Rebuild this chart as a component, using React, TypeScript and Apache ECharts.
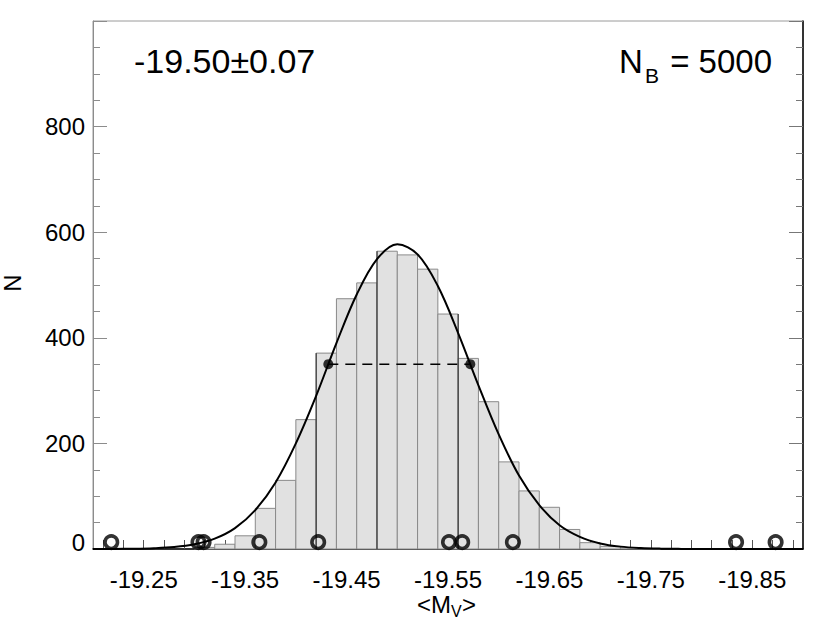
import React, { useEffect, useRef } from "react";
import * as echarts from "echarts";

// Histogram of bootstrap means (bin width 0.02)
const BIN_WIDTH = 0.02;
const binCenters = [
  -19.31, -19.33, -19.35, -19.37, -19.39, -19.41, -19.43, -19.45, -19.47, -19.49, -19.51, -19.53,
  -19.55, -19.57, -19.59, -19.61, -19.63, -19.65, -19.67, -19.69, -19.71, -19.73, -19.75,
];
const binCounts = [3, 9, 25, 77, 130, 245, 371, 474, 504, 564, 557, 530, 445, 361, 279, 165, 110, 79, 37, 12, 5, 2, 1];

// darker bar edges seen in the picture
const darkEdgeX = [-19.42, -19.48, -19.56];
const darkEdgeTop = [371, 564, 445];

// Gaussian curve points
const curveX = [
  -19.2, -19.22, -19.24, -19.26, -19.28, -19.3, -19.32, -19.34, -19.36, -19.38, -19.4, -19.42, -19.44,
  -19.46, -19.48, -19.5, -19.52, -19.54, -19.56, -19.58, -19.6, -19.62, -19.64, -19.66, -19.68, -19.7,
  -19.72, -19.74, -19.76, -19.78, -19.8, -19.82, -19.84, -19.86, -19.88, -19.9,
];
const curveY = [
  0.05, 0.17, 0.5, 1.5, 3.8, 9, 19.6, 39.6, 73.7, 126, 200, 290, 390, 482, 549, 577, 558, 498, 409, 310,
  217, 139, 83, 45, 23, 10.6, 4.5, 1.8, 0.65, 0.22, 0.07, 0.02, 0.01, 0, 0, 0,
];

// 1-sigma markers
const sigmaX = [-19.432, -19.572];
const sigmaY = [350, 350];

// individual values (open circles)
const pointX = [-19.218, -19.304, -19.309, -19.364, -19.422, -19.551, -19.564, -19.614, -19.834, -19.873];
const pointY = [13, 13, 13, 13, 13, 13, 13, 13, 13, 13];

const xTickLabels = [-19.25, -19.35, -19.45, -19.55, -19.65, -19.75, -19.85];
const yTickLabels = [0, 200, 400, 600, 800];

const FONT = "Liberation Sans, Arial, Helvetica, sans-serif";

export default function App() {
  const ref = useRef<HTMLDivElement>(null);

  useEffect(() => {
    if (!ref.current) return;
    const chart = echarts.init(ref.current, null, { renderer: "svg" });

    const xTicks: number[] = [];
    for (let i = 0; i < 35; i++) xTicks.push(+(-19.21 - 0.02 * i).toFixed(2));

    const option: any = {
      animation: false,
      backgroundColor: "#ffffff",
      grid: {
        left: 93,
        top: 21,
        width: 710,
        height: 528,
        show: true,
        borderColor: "#9a9a9a",
        borderWidth: 1,
        backgroundColor: "transparent",
      },
      xAxis: {
        type: "value",
        min: -19.9,
        max: -19.2,
        inverse: true,
        axisLine: { show: true, onZero: false, lineStyle: { color: "#000", width: 1.5 } },
        axisTick: {
          show: true,
          inside: true,
          length: 9,
          customValues: xTicks,
          lineStyle: { color: "#555", width: 1 },
        },
        axisLabel: {
          show: true,
          customValues: xTickLabels,
          formatter: (v: number) => v.toFixed(2),
          fontFamily: FONT,
          fontSize: 24,
          color: "#000",
          margin: 18,
        },
        splitLine: { show: false },
      },
      yAxis: [
        {
          type: "value",
          min: 0,
          max: 1000,
          interval: 200,
          axisLine: { show: true, lineStyle: { color: "#8c8c8c", width: 1 } },
          axisTick: { show: true, inside: true, length: 14, lineStyle: { color: "#8c8c8c" } },
          minorTick: { show: true, splitNumber: 4, length: 7, lineStyle: { color: "#8c8c8c" } },
          axisLabel: {
            fontFamily: FONT,
            fontSize: 24,
            color: "#000",
            margin: 8,
            formatter: (v: number) =>
              yTickLabels.indexOf(v) < 0 ? "" : v === 0 ? "{z|0}" : String(v),
            rich: { z: { fontFamily: FONT, fontSize: 24, color: "#000", padding: [0, 0, 14, 0] } },
          },
          splitLine: { show: false },
        },
        {
          type: "value",
          position: "right",
          min: 0,
          max: 1000,
          interval: 200,
          axisLine: { show: true, lineStyle: { color: "#000", width: 1.5 } },
          axisTick: { show: true, inside: true, length: 14, lineStyle: { color: "#777" } },
          minorTick: { show: true, splitNumber: 4, length: 7, lineStyle: { color: "#777" } },
          axisLabel: { show: false },
          splitLine: { show: false },
        },
      ],
      series: [
        {
          type: "custom",
          name: "hist",
          data: binCenters.map((c, i) => [c, binCounts[i]]),
          renderItem: (params: any, api: any) => {
            const c = api.value(0);
            const v = api.value(1);
            const p1 = api.coord([c - BIN_WIDTH / 2, v]);
            const p2 = api.coord([c + BIN_WIDTH / 2, 0]);
            const x = Math.min(p1[0], p2[0]);
            return {
              type: "rect",
              shape: { x, y: p1[1], width: Math.abs(p2[0] - p1[0]), height: p2[1] - p1[1] },
              style: { fill: "#e1e1e1", stroke: "#8a8a8a", lineWidth: 1 },
            };
          },
          z: 2,
        },
        {
          type: "custom",
          name: "edges",
          data: darkEdgeX.map((x, i) => [x, darkEdgeTop[i]]),
          renderItem: (params: any, api: any) => {
            const p1 = api.coord([api.value(0), api.value(1)]);
            const p2 = api.coord([api.value(0), 0]);
            return {
              type: "line",
              shape: { x1: p1[0], y1: p1[1], x2: p2[0], y2: p2[1] },
              style: { stroke: "#222", lineWidth: 1 },
            };
          },
          z: 3,
        },
        {
          type: "line",
          name: "gauss",
          data: curveX.map((x, i) => [x, curveY[i]]),
          smooth: 0.35,
          symbol: "none",
          lineStyle: { color: "#000", width: 2 },
          z: 4,
        },
        {
          type: "line",
          name: "sigma",
          data: sigmaX.map((x, i) => [x, sigmaY[i]]),
          symbol: "none",
          lineStyle: { color: "#000", width: 1.5, type: [10, 7] },
          z: 5,
        },
        {
          type: "scatter",
          name: "sigmaDots",
          data: sigmaX.map((x, i) => [x, sigmaY[i]]),
          symbol: "circle",
          symbolSize: 10,
          itemStyle: { color: "#000" },
          z: 6,
        },
        {
          type: "scatter",
          name: "points",
          data: pointX.map((x, i) => [x, pointY[i]]),
          symbol: "circle",
          symbolSize: 12.5,
          itemStyle: { color: "transparent", borderColor: "#000", borderWidth: 3.6 },
          z: 7,
        },
      ],
      graphic: [
        {
          type: "text",
          x: 134,
          y: 61,
          style: { text: "-19.50±0.07", fontFamily: FONT, fontSize: 34, fill: "#000", verticalAlign: "middle", align: "left" },
        },
        {
          type: "text",
          x: 619,
          y: 61,
          style: { text: "N", fontFamily: FONT, fontSize: 33, fill: "#000", verticalAlign: "middle", align: "left" },
        },
        {
          type: "text",
          x: 645,
          y: 75,
          style: { text: "B", fontFamily: FONT, fontSize: 21, fill: "#000", verticalAlign: "middle", align: "left" },
        },
        {
          type: "text",
          x: 772,
          y: 61,
          style: { text: "= 5000", fontFamily: FONT, fontSize: 33, fill: "#000", verticalAlign: "middle", align: "right" },
        },
        {
          type: "text",
          x: 12,
          y: 283,
          rotation: Math.PI / 2,
          style: { text: "N", fontFamily: FONT, fontSize: 24, fill: "#000", verticalAlign: "middle", align: "center" },
        },
        {
          type: "text",
          x: 451,
          y: 604,
          style: { text: "<M", fontFamily: FONT, fontSize: 24, fill: "#000", verticalAlign: "middle", align: "right" },
        },
        {
          type: "text",
          x: 451,
          y: 611,
          style: { text: "V", fontFamily: FONT, fontSize: 16, fill: "#000", verticalAlign: "middle", align: "left" },
        },
        {
          type: "text",
          x: 462,
          y: 604,
          style: { text: ">", fontFamily: FONT, fontSize: 24, fill: "#000", verticalAlign: "middle", align: "left" },
        },
      ],
    };

    chart.setOption(option);
    return () => chart.dispose();
  }, []);

  return (
    <div
      ref={ref}
      style={{ position: "fixed", left: 0, top: 0, width: 830, height: 623, background: "#fff" }}
    />
  );
}
